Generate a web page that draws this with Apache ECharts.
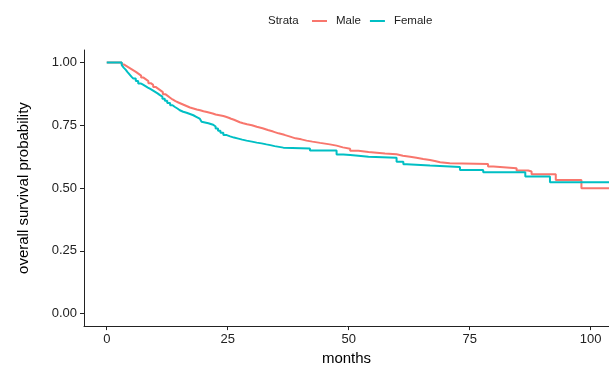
<!DOCTYPE html>
<html>
<head>
<meta charset="utf-8">
<script src="https://cdn.jsdelivr.net/npm/echarts@6/dist/echarts.min.js"></script>
<style>
  html, body { margin: 0; padding: 0; background: #fff; }
  #chart { width: 609px; height: 371px; }
</style>
</head>
<body>
<div id="chart"></div>
<script>
// 生存曲线数据
const maleTime = [0, 3.1, 3.6, 4.1, 4.6, 5.1, 5.6, 6.1, 6.6, 7.1, 7.6, 8.1, 8.6, 9.1, 9.6, 10.1, 10.6, 11.1, 11.6, 12.1, 12.6, 13.1, 13.6, 14.2, 14.8, 15.4, 16.0, 16.6, 17.2, 17.9, 18.6, 19.3, 20.0, 20.7, 21.3, 21.9, 22.5, 23.3, 24.1, 24.6, 25.2, 25.7, 26.3, 26.9, 27.5, 28.2, 29.0, 30.0, 31.0, 32.2, 33.3, 34.4, 35.5, 36.7, 37.9, 39.0, 40.2, 41.3, 42.5, 44.1, 46.1, 47.5, 48.8, 50.3, 52.0, 54.1, 57.5, 59.9, 61.2, 62.7, 64.0, 65.4, 66.8, 67.8, 68.9, 70.9, 78.8, 79.9, 84.7, 87.1, 87.8, 92.8, 98.1, 106]
const maleSurv = [1.0, 0.992, 0.986, 0.98, 0.974, 0.968, 0.962, 0.955, 0.948, 0.94, 0.933, 0.926, 0.918, 0.911, 0.903, 0.896, 0.889, 0.882, 0.874, 0.867, 0.86, 0.853, 0.846, 0.841, 0.836, 0.831, 0.826, 0.821, 0.817, 0.813, 0.81, 0.806, 0.803, 0.8, 0.797, 0.793, 0.79, 0.787, 0.784, 0.78, 0.776, 0.772, 0.767, 0.762, 0.758, 0.754, 0.75, 0.744, 0.738, 0.731, 0.725, 0.718, 0.712, 0.705, 0.698, 0.694, 0.689, 0.685, 0.68, 0.674, 0.669, 0.662, 0.657, 0.649, 0.644, 0.638, 0.635, 0.629, 0.625, 0.621, 0.616, 0.612, 0.608, 0.603, 0.599, 0.596, 0.586, 0.579, 0.57, 0.566, 0.555, 0.532, 0.499, 0.499]

const femaleTime = [0, 3.1, 3.5, 3.9, 4.3, 4.7, 5.1, 5.5, 6.0, 6.5, 7.0, 7.5, 8.0, 8.5, 9.0, 9.5, 10.0, 10.5, 11.0, 11.5, 12.0, 12.5, 13.1, 13.6, 14.1, 14.6, 15.1, 15.8, 16.5, 17.2, 17.9, 18.5, 19.2, 19.6, 20.0, 21.0, 22.0, 22.5, 23.0, 23.5, 24.1, 24.8, 25.5, 26.3, 27.2, 28.0, 28.9, 30.0, 31.0, 32.0, 33.0, 33.8, 34.7, 35.6, 36.5, 42.0, 47.5, 48.9, 50.3, 52.0, 54.1, 59.9, 61.3, 62.0, 66.8, 73.0, 77.8, 86.5, 91.6, 106]
const femaleSurv = [1.0, 0.99, 0.98, 0.972, 0.962, 0.953, 0.944, 0.936, 0.926, 0.917, 0.912, 0.906, 0.9, 0.895, 0.889, 0.883, 0.877, 0.87, 0.864, 0.856, 0.848, 0.839, 0.83, 0.823, 0.817, 0.81, 0.804, 0.8, 0.795, 0.79, 0.784, 0.777, 0.771, 0.764, 0.758, 0.752, 0.745, 0.737, 0.728, 0.72, 0.711, 0.706, 0.701, 0.697, 0.693, 0.689, 0.685, 0.681, 0.678, 0.674, 0.671, 0.667, 0.664, 0.661, 0.658, 0.65, 0.634, 0.632, 0.629, 0.625, 0.621, 0.605, 0.595, 0.59, 0.584, 0.572, 0.563, 0.546, 0.523, 0.523]

const xTicks = [0, 25, 50, 75, 100]
const yTicks = [0, 0.25, 0.5, 0.75, 1]

const toPairs = (t, s) => t.map((x, i) => [x, s[i]])

const chart = echarts.init(document.getElementById('chart'))
chart.setOption({
  animation: false,
  textStyle: { fontFamily: 'Liberation Sans, Arial, sans-serif' },
  grid: { left: 84, right: 0, top: 50, bottom: 43.5 },
  legend: {
    left: 307,
    top: 10,
    itemWidth: 15,
    itemHeight: 2,
    itemGap: 9,
    icon: 'rect',
    textStyle: { fontSize: 11.5, color: '#222', padding: [0, 0, 0, 4] },
    data: ['Male', 'Female']
  },
  graphic: [
    {
      type: 'text',
      left: 268,
      top: 15,
      style: { text: 'Strata', fontSize: 11.5, fill: '#222', fontFamily: 'Liberation Sans, Arial, sans-serif' }
    }
  ],
  xAxis: {
    type: 'value',
    min: -4.7,
    max: 103.8,
    name: 'months',
    nameLocation: 'middle',
    nameGap: 21,
    nameTextStyle: { fontSize: 15, color: '#000' },
    splitLine: { show: false },
    axisLine: { onZero: false, lineStyle: { color: '#222', width: 1 } },
    axisTick: { customValues: xTicks, length: 4, lineStyle: { color: '#222' } },
    axisLabel: { customValues: xTicks, fontSize: 13, color: '#222', margin: 7 }
  },
  yAxis: {
    type: 'value',
    min: -0.05,
    max: 1.05,
    name: 'overall survival probability',
    nameLocation: 'middle',
    nameGap: 53,
    nameTextStyle: { fontSize: 15, color: '#000' },
    splitLine: { show: false },
    axisLine: { onZero: false, lineStyle: { color: '#222', width: 1 } },
    axisTick: { customValues: yTicks, length: 4, lineStyle: { color: '#222' } },
    axisLabel: {
      customValues: yTicks,
      fontSize: 13,
      color: '#222',
      margin: 7,
      formatter: (v) => v.toFixed(2)
    }
  },
  series: [
    {
      name: 'Male',
      type: 'line',
      step: 'end',
      showSymbol: false,
      data: toPairs(maleTime, maleSurv),
      itemStyle: { color: '#F8766D' },
      lineStyle: { color: '#F8766D', width: 2 }
    },
    {
      name: 'Female',
      type: 'line',
      step: 'end',
      showSymbol: false,
      data: toPairs(femaleTime, femaleSurv),
      itemStyle: { color: '#00BFC4' },
      lineStyle: { color: '#00BFC4', width: 2 }
    }
  ]
})
</script>
</body>
</html>
